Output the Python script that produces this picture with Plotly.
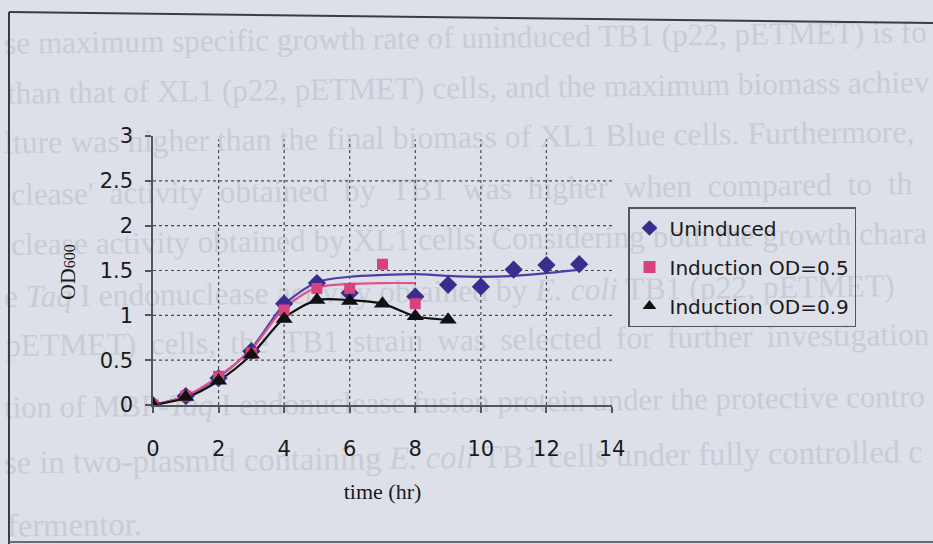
import plotly.graph_objects as go

# ---- measured OD600 values ----
t_uninduced = [0, 1, 2, 3, 4, 5, 6, 8, 9, 10, 11, 12, 13]
od_uninduced = [0.0, 0.10, 0.30, 0.60, 1.13, 1.36, 1.25, 1.21, 1.34, 1.32, 1.51, 1.56, 1.57]

t_ind05 = [0, 1, 2, 3, 4, 5, 6, 7, 8]
od_ind05 = [0.0, 0.10, 0.32, 0.58, 1.06, 1.30, 1.30, 1.57, 1.13]

t_ind09 = [0, 1, 2, 3, 4, 5, 6, 7, 8, 9]
od_ind09 = [0.0, 0.09, 0.27, 0.56, 0.96, 1.17, 1.16, 1.13, 0.99, 0.95]

# ---- fitted growth curves (values at each hour) ----
fit_t_uninduced = [0, 1, 2, 3, 4, 5, 6, 7, 8, 9, 10, 11, 12, 13]
fit_uninduced = [0.0, 0.10, 0.31, 0.63, 1.12, 1.37, 1.43, 1.45, 1.46, 1.44, 1.43, 1.44, 1.47, 1.51]

fit_t_ind05 = [0, 1, 2, 3, 4, 5, 6, 7, 8]
fit_ind05 = [0.0, 0.10, 0.32, 0.62, 1.08, 1.31, 1.35, 1.36, 1.36]

fit_t_ind09 = [0, 1, 2, 3, 4, 5, 6, 7, 8, 9]
fit_ind09 = [0.0, 0.08, 0.27, 0.56, 0.97, 1.17, 1.17, 1.13, 0.99, 0.95]

# ---- axis ticks ----
x_ticks = [0, 2, 4, 6, 8, 10, 12, 14]
y_ticks = [0, 0.5, 1, 1.5, 2, 2.5, 3]
y_ticktext = ["0", "0.5", "1", "1.5", "2", "2.5", "3"]

# text of the facing page showing through the paper:
# (row centre at the left edge, start x, font size, text)
NB = "\u00a0"
GAP4 = NB * 2
GAP7 = NB + "\u2009"
page_rows = [
    (40, 1, 31.2, "se maximum specific growth rate of uninduced TB1 (p22, pETMET) is fo"),
    (90, 4, 31.2, "than that of XL1 (p22, pETMET) cells, and the maximum biomass achiev"),
    (139, 1, 31.8, "lture was higher than the final biomass of XL1 Blue cells. Furthermore,"),
    (191, 8, 31.5, GAP4.join(["clease'", "activity", "obtained", "by", "TB1", "was",
                              "higher", "when", "compared", "to", "th"])),
    (241, 8, 31.4, "clease activity obtained by XL1 cells. Considering both the growth chara"),
    (293, 1, 31.6, "e <i>Taq</i> I endonuclease activity obtained by <i>E. coli</i> TB1 (p22, pETMET)"),
    (342, 2, 31.5, GAP7.join(["pETMET)", "cells,", "the", "TB1", "strain", "was",
                              "selected", "for", "further", "investigation"])),
    (404, 1, 30.8, "tion of MBP-<i>Taq</i> I endonuclease fusion protein under the protective contro"),
    (459, 1, 32.6, "se in two-plasmid containing <i>E. coli</i> TB1 cells under fully controlled c"),
    (522, 4, 32.6, "fermentor."),
]

W, H = 933, 544
PL, PR, PT, PB = 153, 612, 136, 405


def paper_x(px):
    return (px - PL) / (PR - PL)


def paper_y(py):
    return (PB - py) / (PB - PT)


ink = "#1a1a1a"
c_blue = "#3a2e8c"
c_pink = "#d9427f"
c_black = "#111111"
tick_font = dict(family="DejaVu Sans", size=21, color=ink)

fig = go.Figure()

# fitted curves
fig.add_trace(go.Scatter(x=fit_t_uninduced, y=fit_uninduced, mode="lines",
                         line=dict(color="#4a3fa6", width=2.2, shape="spline", smoothing=0.8),
                         showlegend=False, hoverinfo="skip"))
fig.add_trace(go.Scatter(x=fit_t_ind05, y=fit_ind05, mode="lines",
                         line=dict(color="#e0538c", width=2.2, shape="spline", smoothing=0.8),
                         showlegend=False, hoverinfo="skip"))
fig.add_trace(go.Scatter(x=fit_t_ind09, y=fit_ind09, mode="lines",
                         line=dict(color=c_black, width=2.2, shape="spline", smoothing=0.8),
                         showlegend=False, hoverinfo="skip"))

# measured points
fig.add_trace(go.Scatter(x=t_uninduced, y=od_uninduced, mode="markers", name="Uninduced",
                         legendgroup="a",
                         marker=dict(symbol="diamond", size=14, color=c_blue)))
fig.add_trace(go.Scatter(x=t_ind05, y=od_ind05, mode="markers", name="Induction OD=0.5",
                         legendgroup="b",
                         marker=dict(symbol="square", size=11, color=c_pink)))
fig.add_trace(go.Scatter(x=t_ind09, y=od_ind09, mode="markers", name="Induction OD=0.9",
                         legendgroup="c",
                         marker=dict(symbol="triangle-up", size=15, color=c_black)))

shapes = []
# show-through page text, drawn underneath everything, with the slight tilt of the page
for y_px, x_px, size, txt in page_rows:
    shapes.append(dict(type="rect", xref="paper", yref="paper", layer="below",
                       x0=paper_x(x_px), x1=paper_x(x_px + 4),
                       y0=paper_y(y_px + 1), y1=paper_y(y_px - 1),
                       line=dict(width=0), fillcolor="rgba(0,0,0,0)",
                       label=dict(text=txt, textposition="middle left", padding=0,
                                  textangle=-0.7,
                                  font=dict(family="Liberation Serif", size=size,
                                            color="#c8ccd5"))))

# dotted grid
for xv in x_ticks[1:-1]:
    shapes.append(dict(type="line", xref="x", yref="y", layer="below",
                       x0=xv, x1=xv, y0=0, y1=y_ticks[-1] - 0.04,
                       line=dict(color="#4a4a4a", width=1.2, dash="dot")))
for yv in y_ticks[1:-1]:
    shapes.append(dict(type="line", xref="x", yref="y", layer="below",
                       x0=x_ticks[0], x1=x_ticks[-1], y0=yv, y1=yv,
                       line=dict(color="#4a4a4a", width=1.2, dash="dot")))

# frame of the printed figure
frame = "#3c3c3c"
shapes.append(dict(type="line", xref="paper", yref="paper",
                   x0=paper_x(9), x1=paper_x(9), y0=paper_y(12), y1=paper_y(544),
                   line=dict(color=frame, width=2)))
shapes.append(dict(type="line", xref="paper", yref="paper",
                   x0=paper_x(9), x1=paper_x(933), y0=paper_y(12), y1=paper_y(23),
                   line=dict(color=frame, width=2)))
shapes.append(dict(type="line", xref="paper", yref="paper",
                   x0=paper_x(9), x1=paper_x(933), y0=paper_y(542), y1=paper_y(542),
                   line=dict(color="#6a6a6a", width=2)))

annotations = [
    dict(text="OD<span style='font-size:16px'>600</span>", textangle=-90,
         xref="paper", yref="paper", x=paper_x(67), y=paper_y(272),
         xanchor="center", yanchor="middle", showarrow=False,
         font=dict(family="Liberation Serif", size=22, color=ink)),
]

fig.update_layout(
    width=W, height=H,
    margin=dict(l=PL, r=W - PR, t=PT, b=H - PB, pad=0),
    paper_bgcolor="#dde0e8",
    plot_bgcolor="rgba(0,0,0,0)",
    shapes=shapes,
    annotations=annotations,
    legend=dict(x=paper_x(628), y=paper_y(207), xanchor="left", yanchor="top",
                bgcolor="rgba(0,0,0,0)", bordercolor="#555555", borderwidth=1.5,
                font=dict(family="DejaVu Sans", size=20, color=ink),
                tracegroupgap=10, itemwidth=30, itemsizing="constant",
                traceorder="grouped"),
    xaxis=dict(range=[x_ticks[0], x_ticks[-1]], tickvals=x_ticks,
               showgrid=False, zeroline=False,
               showline=True, linecolor="#555555", linewidth=1.5,
               ticks="outside", ticklen=6, tickcolor="#555555", tickwidth=1.5,
               ticklabelstandoff=18, tickfont=tick_font,
               title=dict(text="time (hr)", standoff=24,
                          font=dict(family="Liberation Serif", size=22, color=ink))),
    yaxis=dict(range=[y_ticks[0], y_ticks[-1]], tickvals=y_ticks, ticktext=y_ticktext,
               showgrid=False, zeroline=False,
               showline=True, linecolor="#555555", linewidth=1.5,
               ticks="outside", ticklen=6, tickcolor="#555555", tickwidth=1.5,
               ticklabelstandoff=8, tickfont=tick_font),
)

fig.write_html("out.html")
